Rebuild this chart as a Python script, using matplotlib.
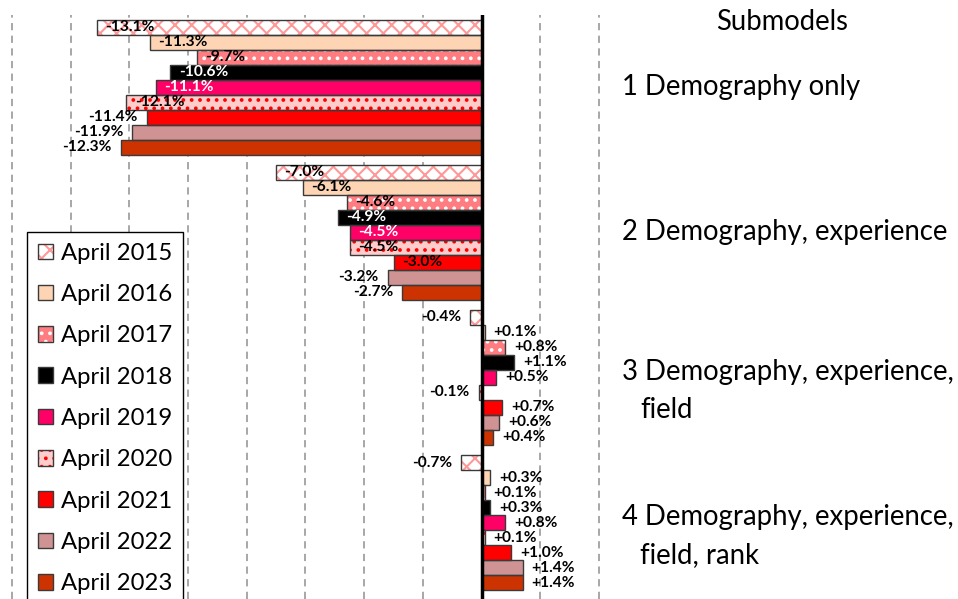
import matplotlib
matplotlib.use('Agg')
import matplotlib.pyplot as plt
from matplotlib.patches import Patch
from matplotlib.transforms import blended_transform_factory

plt.rcParams['font.family'] = ['Lato', 'DejaVu Sans']
plt.rcParams['hatch.linewidth'] = 1.5

# ---- data (percent change per submodel, one value per April snapshot) ----
years = ['April 2015', 'April 2016', 'April 2017', 'April 2018', 'April 2019',
         'April 2020', 'April 2021', 'April 2022', 'April 2023']
submodels = ['1 Demography only',
             '2 Demography, experience',
             '3 Demography, experience,\nfield',
             '4 Demography, experience,\nfield, rank']
change_1 = [-13.1, -11.3, -9.7, -10.6, -11.1, -12.1, -11.4, -11.9, -12.3]
change_2 = [-7.0, -6.1, -4.6, -4.9, -4.5, -4.5, -3.0, -3.2, -2.7]
change_3 = [-0.4, 0.1, 0.8, 1.1, 0.5, -0.1, 0.7, 0.6, 0.4]
change_4 = [-0.7, 0.3, 0.1, 0.3, 0.8, 0.1, 1.0, 1.4, 1.4]
groups = [change_1, change_2, change_3, change_4]

# ---- styles per year ----
faces = ['white', '#FDD5B5', '#FF7C80', 'black', '#FF0066',
         '#FFCCCC', '#FF0000', '#D09393', '#CC3300']
hatches = ['xx', None, '..', None, None, '..', None, None, None]
hatch_cols = ['#FF9999', None, 'white', None, None, '#FF0000', None, None, None]
white_text = [False, False, False, True, True, False, False, False, False]
inside_n = [6, 7, 0, 0]   # first n bars of each group carry the label inside

GROUP_STEP = 9.6667   # 9 bars + gap, in bar heights

fig = plt.figure(figsize=(9.58, 5.99), dpi=100)
ax = fig.add_axes([0, 0, 610 / 958, 1 - 15 / 599])

handles = []
for i in range(len(years)):
    vals = [grp[i] for grp in groups]
    ys = [g * GROUP_STEP + i for g in range(len(groups))]
    ax.barh(ys, vals, height=1.0, color=faces[i],
            edgecolor=hatch_cols[i] if hatches[i] else 'none',
            hatch=hatches[i], linewidth=0, zorder=2)
    ax.barh(ys, vals, height=1.0, fill=False, edgecolor='#3a3a3a',
            linewidth=1, zorder=3)
    fill = Patch(facecolor=faces[i],
                 edgecolor=hatch_cols[i] if hatches[i] else 'none',
                 hatch=hatches[i], linewidth=0)
    outline = Patch(fill=False, edgecolor='#3a3a3a', linewidth=1)
    handles.append((fill, outline))

# value labels
for g, grp in enumerate(groups):
    for i, v in enumerate(grp):
        y = g * GROUP_STEP + i
        inside = i < inside_n[g]
        if inside:
            dx, ha = 6.0, 'left'
        elif v < 0:
            dx, ha = -6.5, 'right'
        else:
            dx, ha = 6.5, 'left'
        col = 'white' if (inside and white_text[i]) else 'black'
        ax.annotate(f'{v:+.1f}%', (v, y), xytext=(dx, 0),
                    textcoords='offset points', ha=ha, va='center',
                    fontsize=11.2, fontweight='bold', color=col, zorder=5)

# axes styling
ax.set_xlim(-16.409, 4.375)
ax.set_ylim(38.1, -0.833)
ax.set_xticks(range(-16, 5, 2))
ax.set_yticks([])
ax.tick_params(axis='x', length=0, labelbottom=False)
ax.xaxis.grid(True, color='#a0a0a0', linestyle=(0, (4, 3)), linewidth=1.3)
ax.set_axisbelow(True)
ax.axvline(0, color='black', linewidth=2.5, zorder=4)
for s in ax.spines.values():
    s.set_visible(False)

# submodel names on the right
tr = blended_transform_factory(fig.transFigure, ax.transData)
fig.text(782 / 958, 1 - 22 / 599, 'Submodels', ha='center', va='center',
         fontsize=19.8)
for g, name in enumerate(submodels):
    lines = name.split('\n')
    yc = g * GROUP_STEP + 4 + (0 if len(lines) == 1 else -0.35)
    for k, line in enumerate(lines):
        x = 622 if k == 0 else 640
        ax.text(x / 958, yc + k * 2.5, line, transform=tr, ha='left',
                va='center', fontsize=19.8, clip_on=False)

leg = fig.legend(handles, years, loc='upper left',
                 bbox_to_anchor=(27 / 958, 1 - 232 / 599),
                 bbox_transform=fig.transFigure, borderaxespad=0,
                 fontsize=17.2, handlelength=0.63, handleheight=0.63,
                 handletextpad=0.35, borderpad=0.45, labelspacing=0.85,
                 fancybox=False, framealpha=1, edgecolor='black')
leg.get_frame().set_linewidth(1)

fig.savefig('out.png', dpi=100)
